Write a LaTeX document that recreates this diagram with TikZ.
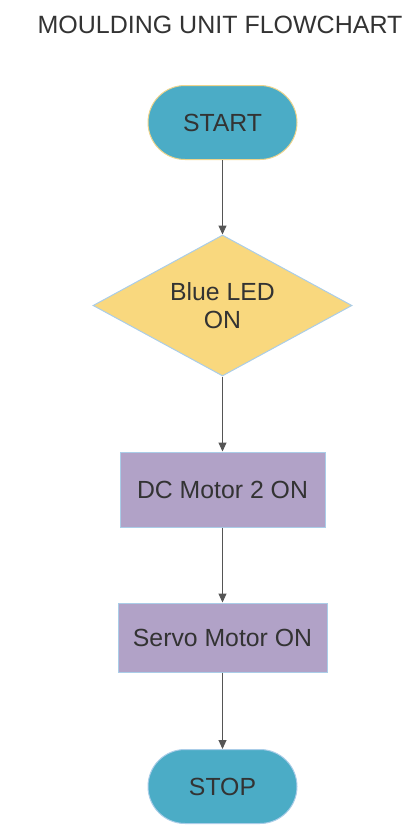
\documentclass[tikz,border=0pt]{standalone}
\usepackage{fontspec}
\setmainfont{Liberation Sans}
\usetikzlibrary{shapes.geometric,arrows.meta}
\definecolor{termfill}{RGB}{75,172,198}
\definecolor{decfill}{RGB}{249,216,126}
\definecolor{procfill}{RGB}{177,162,199}
\definecolor{paleblue}{RGB}{170,205,232}
\definecolor{paleyellow}{RGB}{238,212,140}
\definecolor{txt}{RGB}{51,51,51}
\definecolor{arrowgray}{RGB}{85,85,85}
\begin{document}
\begin{tikzpicture}[x=1pt,y=-1pt,line width=1pt,
  every node/.style={font=\fontsize{24.8}{28}\selectfont, text=txt},
  term/.style={draw=paleblue, fill=termfill, rounded corners=37pt, minimum width=149pt, minimum height=74pt, inner sep=0pt},
  decision/.style={diamond, aspect=1.84, draw=paleblue, fill=decfill, minimum width=259pt, minimum height=141pt, inner sep=0pt, align=center},
  process/.style={draw=paleblue, fill=procfill, minimum width=205pt, minimum height=75pt, inner sep=0pt},
  flow/.style={draw=arrowgray, line width=1pt, -{Triangle[width=8pt,length=9pt]}}]
  \useasboundingbox (0,0) rectangle (413,838);
  \node[font=\fontsize{25}{28}\selectfont] (title) at (220,25) {MOULDING UNIT FLOWCHART};
  \node[term, draw=paleyellow] (start) at (222.5,122.5) {START};
  \node[decision] (led) at (222.5,305.5) {Blue LED\\ ON};
  \node[process] (dcmotor) at (222.5,489.5) {DC Motor 2 ON};
  \node[process, minimum width=209pt, minimum height=69pt] (servo) at (222.5,637.5) {Servo Motor ON};
  \node[term] (stop) at (222.5,786.5) {STOP};
  \draw[flow] (start) -- (led);
  \draw[flow] (led) -- (dcmotor);
  \draw[flow] (dcmotor) -- (servo);
  \draw[flow] (servo) -- (stop);
\end{tikzpicture}
\end{document}
